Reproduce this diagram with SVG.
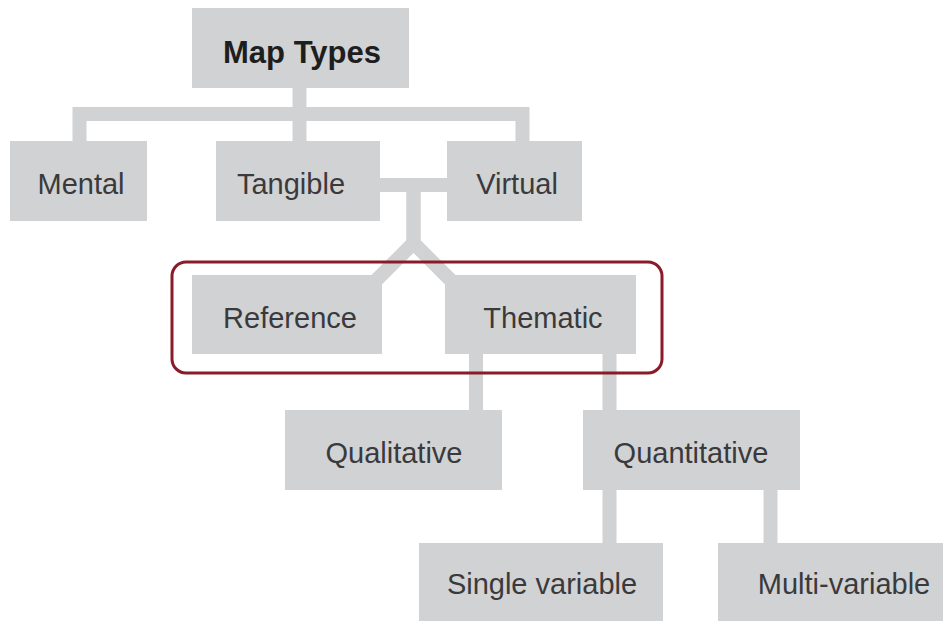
<svg xmlns="http://www.w3.org/2000/svg" width="943" height="621" viewBox="0 0 943 621">
  <style>
    .box { fill: #d1d2d4; }
    .conn { fill: none; stroke: #d1d2d4; stroke-width: 14; stroke-linejoin: miter; stroke-linecap: butt; }
    .lbl { font-family: "Liberation Sans", Arial, sans-serif; font-size: 29px; fill: #3a3a3c; text-anchor: middle; }
    .title { font-weight: bold; font-size: 31px; fill: #1e1e1e; }
    .group { fill: none; stroke: #8a1c2a; stroke-width: 3; }
  </style>
  <rect width="943" height="621" fill="#ffffff"/>
  <g id="connectors">
    <path class="conn" d="M299.5,88 V141"/>
    <path class="conn" d="M79.5,141 V114 H522.5 V141"/>
    <path class="conn" d="M380,185 H447"/>
    <path class="conn" d="M413.5,185 V243 L369,287.5"/>
    <path class="conn" d="M413.5,185 V243 L458,287.5"/>
    <path class="conn" d="M476,353 V410"/>
    <path class="conn" d="M609.5,353 V543"/>
    <path class="conn" d="M770.5,490 V543"/>
  </g>
  <g id="map-types">
    <rect class="box" x="192" y="8" width="217" height="80"/>
    <text class="lbl title" x="302" y="63">Map Types</text>
  </g>
  <g id="mental">
    <rect class="box" x="10" y="141" width="137" height="80"/>
    <text class="lbl" x="81" y="194">Mental</text>
  </g>
  <g id="tangible">
    <rect class="box" x="216" y="141" width="164" height="80"/>
    <text class="lbl" x="291" y="194">Tangible</text>
  </g>
  <g id="virtual">
    <rect class="box" x="447" y="141" width="135" height="80"/>
    <text class="lbl" x="517" y="194">Virtual</text>
  </g>
  <g id="reference">
    <rect class="box" x="192" y="275" width="190" height="79"/>
    <text class="lbl" x="290" y="328">Reference</text>
  </g>
  <g id="thematic">
    <rect class="box" x="445" y="275" width="191" height="79"/>
    <text class="lbl" x="543" y="328">Thematic</text>
  </g>
  <g id="qualitative">
    <rect class="box" x="285" y="410" width="217" height="80"/>
    <text class="lbl" x="394" y="463">Qualitative</text>
  </g>
  <g id="quantitative">
    <rect class="box" x="583" y="410" width="217" height="80"/>
    <text class="lbl" x="691" y="463">Quantitative</text>
  </g>
  <g id="single-variable">
    <rect class="box" x="419" y="543" width="244" height="80"/>
    <text class="lbl" x="542" y="594">Single variable</text>
  </g>
  <g id="multi-variable">
    <rect class="box" x="718" y="543" width="230" height="80"/>
    <text class="lbl" x="844" y="594">Multi-variable</text>
  </g>
  <g id="highlight">
    <rect class="group" x="172" y="262" width="490" height="111" rx="14" ry="14"/>
  </g>
</svg>
